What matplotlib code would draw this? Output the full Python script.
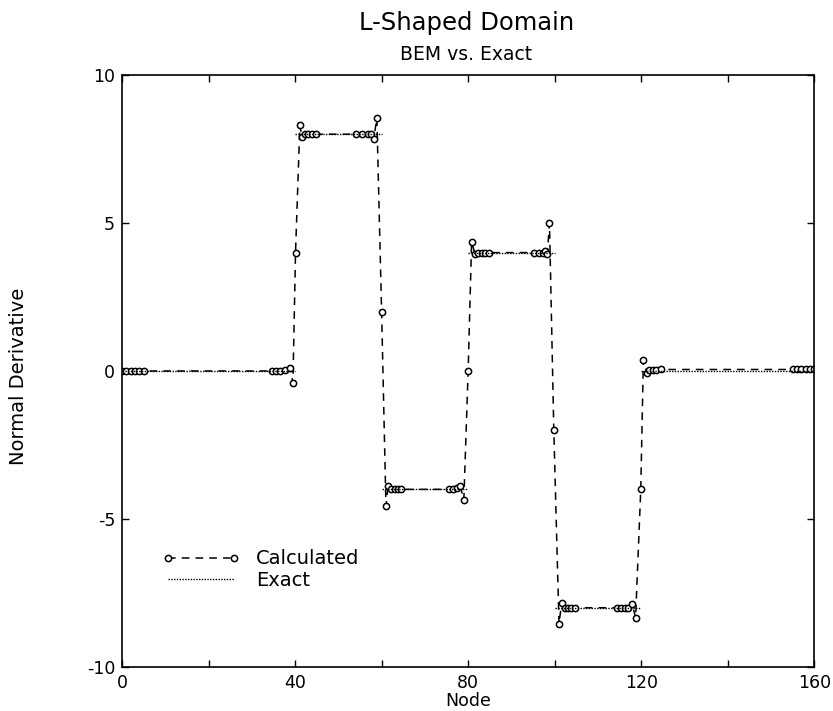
import matplotlib.pyplot as plt
import numpy as np

# BEM calculated values (node position, normal derivative)
calc_nodes = [0, 1, 2, 3, 4, 5,
              34.6, 35.6, 36.5, 37.6, 38.8, 39.5,
              40.1,
              41.1, 41.6, 42.3, 43.0, 43.9, 44.8,
              54.0, 55.5, 56.8, 57.6, 58.2, 58.9,
              60.0,
              61.0, 61.5, 62.2, 63.0, 63.8, 64.5,
              75.5, 76.5, 77.5, 78.2, 79.0,
              80.0,
              80.8, 81.6, 82.3, 83.2, 84.0, 84.8,
              95.3, 96.3, 97.2, 97.8, 98.3, 98.8,
              99.8,
              101.0, 101.6, 102.3, 103.0, 103.8, 104.6,
              114.3, 115.3, 116.2, 117.0, 117.9, 118.7,
              119.9,
              120.5, 121.3, 121.9, 122.7, 123.5, 124.5,
              155, 156, 157, 158, 159, 160]
calc_values = [0.0, 0.0, 0.0, 0.0, 0.0, 0.0,
               0.0, 0.0, 0.0, 0.02, 0.1, -0.4,
               4.0,
               8.3, 7.9, 8.0, 8.0, 8.0, 8.0,
               8.0, 8.0, 8.0, 8.0, 7.85, 8.55,
               2.0,
               -4.56, -3.9, -4.0, -4.0, -4.0, -4.0,
               -4.0, -4.0, -3.95, -3.9, -4.36,
               0.0,
               4.36, 3.95, 4.0, 4.0, 4.0, 4.0,
               4.0, 4.0, 4.0, 4.05, 3.95, 5.0,
               -2.0,
               -8.55, -7.84, -8.0, -8.0, -8.0, -8.0,
               -8.0, -8.0, -8.0, -8.0, -7.87, -8.34,
               -4.0,
               0.37, -0.07, 0.03, 0.03, 0.04, 0.05,
               0.05, 0.05, 0.05, 0.05, 0.05, 0.05]

# exact solution: constant on each side of the L-shaped boundary
side_starts = [0, 40, 60, 80, 100, 120]
side_ends = [40, 60, 80, 100, 120, 160]
side_values = [0, 8, -4, 4, -8, 0]


def main():
    plt.rcParams["axes.unicode_minus"] = False

    fig = plt.figure(figsize=(8.33, 7.11), dpi=100)
    ax = fig.add_axes([0.1465, 0.062, 0.831, 0.8325])

    # exact: horizontal pieces, broken by NaN between sides
    ex_x, ex_y = [], []
    for a, b, v in zip(side_starts, side_ends, side_values):
        ex_x += [a, b, np.nan]
        ex_y += [v, v, np.nan]

    ax.plot(calc_nodes, calc_values, color="k", linestyle=(0, (5, 4)),
            linewidth=1.1, marker="o", markersize=4.5, markerfacecolor="white",
            markeredgecolor="k", markeredgewidth=1.1, label="Calculated")
    ax.plot(ex_x, ex_y, color="k", linestyle=(0, (1, 1)), linewidth=1.0,
            label="Exact")

    ax.set_xlim(0, 160)
    ax.set_ylim(-10, 10)
    ax.set_xticks(np.arange(0, 161, 20))
    ax.set_xticklabels(["0", "", "40", "", "80", "", "120", "", "160"])
    ax.set_yticks([-10, -5, 0, 5, 10])
    ax.tick_params(direction="in", top=True, right=True, length=5,
                   width=1, labelsize=12.5, pad=5)
    for s in ax.spines.values():
        s.set_linewidth(1.2)

    ax.set_xlabel("Node", fontsize=12.5, labelpad=0)
    fig.text(0.022, 0.47, "Normal Derivative", rotation=90, fontsize=14,
             ha="center", va="center")

    fig.text(0.56, 0.967, "L-Shaped Domain", fontsize=17.5,
             ha="center", va="center")
    fig.text(0.56, 0.923, "BEM vs. Exact", fontsize=13.5,
             ha="center", va="center")

    ax.legend(loc="lower left", bbox_to_anchor=(0.033, 0.1),
              frameon=False, numpoints=2, handlelength=4.0,
              fontsize=14, labelspacing=0.15, handletextpad=0.8)

    fig.savefig("out.png", dpi=100)


if __name__ == "__main__":
    main()
